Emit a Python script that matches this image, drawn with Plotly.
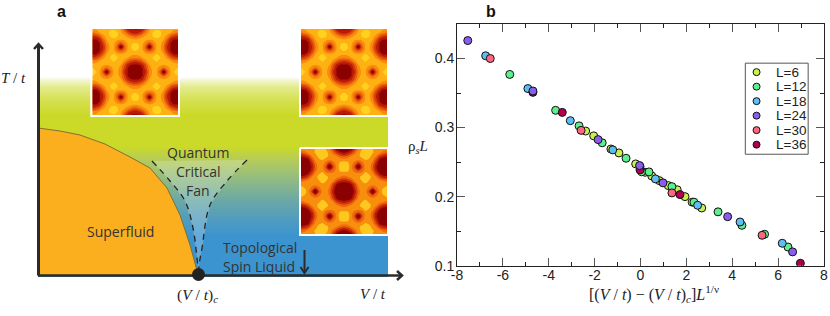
import plotly.graph_objects as go

# ---------- panel b data ----------
L6_x = [-2.39,-2.04,-1.29,-0.94,-0.21,0.20,0.49,0.82,1.21,1.60,1.94,2.25,2.67]
L6_y = [.295,.288,.269,.2633,.2474,.2353,.230,.2232,.216,.210,.200,.192,.1836]
L12_x = [-5.70,-3.70,-2.68,-1.67,-0.63,0.05,0.37,1.37,2.33,3.38,4.42,5.41,6.43]
L12_y = [.377,.325,.3025,.278,.2556,.236,.2358,.2145,.192,.178,.1585,.1455,.127]
L18_x = [-6.75,-4.91,-3.06,-1.21,-0.02,0.65,2.49,4.34,6.18]
L18_y = [.404,.3565,.310,.2677,.2435,.2257,.1875,.1633,.1325]
L24_x = [-7.53,-4.69,-1.85,-0.04,0.98,3.80,6.63]
L24_y = [.426,.353,.2826,.245,.220,.171,.120]
L30_x = [-6.55,-2.59,1.37,5.30]
L30_y = [.400,.296,.2054,.144]
L36_x = [-4.69,-3.41,-0.02,1.72,6.97]
L36_y = [.351,.322,.2387,.203,.1035]
series_names = ["L=6","L=12","L=18","L=24","L=30","L=36"]
series_colors = ["#C8F04E","#5CF08E","#5CBEF5","#8A5CF0","#FF6680","#B0004E"]
xtick_vals = [-8,-6,-4,-2,0,2,4,6,8]
xtick_text = ["-8","-6","-4","-2","0","2","4","6","8"]
ytick_vals = [.1,.2,.3,.4]
ytick_text = ["0.1","0.2","0.3","0.4"]
legend_y = [.3803,.3593,.3383,.3173,.2963,.2753]

# ---------- panel a schematic (page pixels) ----------
grad_y = [76,80,86,100,115,146,160,180,200,220,236,274,276]
grad_c = ["#FFFFFF","#F2F5D0","#E4EC90","#D5E050","#CBD928","#CBD928","#B4CB5A","#8FBA85","#6BA8A6","#4F9CC0","#3B93CF","#3B93CF","#3B93CF"]
grad_col_x = [125.5,300.5]
sf_x = [38,38,60,80,105,130,150,167,180,190,198,198]
sf_y = [275,128,131,135,144,157,168,188,215,245,274,275]
fan_l_x = [152,170,185,193,197,198.5]
fan_l_y = [161,181,201,228,258,272]
fan_r_x = [247,227,210,202,199.5,198.5]
fan_r_y = [160,181,205,248,262,272]
insets = [(92.3,178,29,115),(301,387,29,115),(301,387,149,234)]
# quarter of the density map (low = yellow, high = dark red)
density_quarter = [
 [1.2,1.2,1,.8,.7,.5,.5,.8,1.5,3.3,5.2,5.5,5.5],
 [2.4,2.1,1.4,1,.6,.3,.1,.3,1.2,2.1,3.5,4.5,5],
 [4.4,4,3.2,1.7,1.1,.3,.1,.3,1,1.2,1.7,2.5,2.9],
 [5.5,5.5,5,3,1.4,.9,.6,1.2,1.4,1.2,.9,1,1.2],
 [5.5,5.5,5.5,4,2,1,1.1,2.2,3.3,2.2,1.1,.5,.3],
 [5.5,5.5,5.5,4.6,2.5,1.1,1.2,3,7,3,1.2,.3,.1],
 [5.5,5.5,5.5,4.2,2.2,1,1.1,2.4,3,2.4,1.1,.5,.3],
 [5.5,5.5,4.6,3.1,1.4,.8,.35,1.1,1.3,1.1,.9,1.1,1.2],
 [4.2,3.9,3,1.6,1.1,.3,.1,.3,1,1.1,1.4,1.9,2.1],
 [2,1.8,1.3,1,1,.8,.3,.7,1,1.6,3,3.8,4.2],
 [1,1,.9,1.1,1.3,1.1,.9,1,1.4,3.2,4.8,5.5,5.5],
 [.3,.7,1.1,2,3,2,1.1,1,1.9,3.8,5.5,5.5,5.5],
 [.1,.3,1.2,3,7,3,1.2,1.1,2.1,4.4,5.5,5.5,5.5],
]
levels_warm = [(0,"#FFD21E"),(.5,"#FFB012"),(1.3,"#F98A0E"),(2.3,"#E8620C"),(3.3,"#D83A0A"),(4.3,"#B81A05"),(5.2,"#8B0000"),(6,None)]
levels_hot  = [(0,"#FFC81E"),(1,"#F98E0E"),(2,"#EC6A0C"),(3,"#D83A0A"),(4,"#B81A05"),(5,"#8B0000"),(6,None)]
inset_start = [.4,.4,.7]

def stepped(levels):
    out = []
    for (a,c),(b,_) in zip(levels,levels[1:]):
        out += [[a/6,c],[b/6,c]]
    return out

half = [r + r[-2::-1] for r in density_quarter]
density = half + half[-2::-1]

fig = go.Figure()
PX = dict(xaxis="x", yaxis="y")

# background gradient
span = grad_y[-1]-grad_y[0]
fig.add_trace(go.Heatmap(x=grad_col_x, y=grad_y, z=[[v,v] for v in grad_y], zsmooth="best",
    colorscale=[[(y-grad_y[0])/span,c] for y,c in zip(grad_y,grad_c)], showscale=False,
    zmin=grad_y[0], zmax=grad_y[-1], hoverinfo="skip", **PX))

# insets
for (x0,x1,y0,y1),lv,st in zip(insets,[levels_warm,levels_warm,levels_hot],inset_start):
    n = len(density)
    xs = [x0+(x1-x0)*i/(n-1) for i in range(n)]
    ys = [y0+(y1-y0)*i/(n-1) for i in range(n)]
    fig.add_trace(go.Contour(x=xs,y=ys,z=density,zmin=0,zmax=6,zauto=False,autocontour=False,
        contours=dict(start=st,end=st+5,size=1,coloring="fill",showlines=False),
        line=dict(width=0,smoothing=1.3),
        colorscale=stepped(lv),showscale=False,hoverinfo="skip",**PX))
    fig.add_trace(go.Scatter(x=[x0-1,x1+1,x1+1,x0-1,x0-1],y=[y0-1,y0-1,y1+1,y1+1,y0-1],mode="lines",
        line=dict(color="white",width=2),showlegend=False,hoverinfo="skip",**PX))

# lighter fan
fig.add_trace(go.Scatter(x=fan_l_x+fan_r_x[::-1],y=fan_l_y+fan_r_y[::-1],mode="lines",fill="toself",
    fillcolor="rgba(255,255,255,0.22)",line=dict(width=0),showlegend=False,hoverinfo="skip",**PX))
# superfluid
fig.add_trace(go.Scatter(x=sf_x,y=sf_y,mode="lines",fill="toself",fillcolor="#FCAF1E",
    line=dict(width=0),showlegend=False,hoverinfo="skip",**PX))
fig.add_trace(go.Scatter(x=sf_x[1:-1],y=sf_y[1:-1],mode="lines",
    line=dict(color="#7F7230",width=1),showlegend=False,hoverinfo="skip",**PX))
# dashed crossovers
for xs,ys in [(fan_l_x,fan_l_y),(fan_r_x,fan_r_y)]:
    fig.add_trace(go.Scatter(x=xs,y=ys,mode="lines",line=dict(color="#222",width=1.3,dash="6px,5px",shape="spline"),
        showlegend=False,hoverinfo="skip",**PX))
# axes with arrows
AX = "#2B2B2B"
for xs,ys,w in [([38.5,38.5],[275.5,45],3),([38,401],[275.5,275.5],2.5),
              ([34,38.5,43],[49,44,49],2.5),([397,402,397],[271,275.5,280],2.5),
              ([304.5,304.5],[250,273],2),([300.5,304.5,308.5],[267,273,267],2)]:
    fig.add_trace(go.Scatter(x=xs,y=ys,mode="lines",line=dict(color=AX,width=w),showlegend=False,hoverinfo="skip",**PX))
fig.add_trace(go.Scatter(x=[198.5],y=[274.5],mode="markers",marker=dict(color="#222",size=13),showlegend=False,hoverinfo="skip",**PX))

# panel b
series = [(L6_x,L6_y),(L12_x,L12_y),(L18_x,L18_y),(L36_x,L36_y),(L24_x,L24_y),(L30_x,L30_y)]
idx = [0,1,2,5,3,4]
for (xs,ys),i in zip(series,idx):
    fig.add_trace(go.Scatter(x=xs,y=ys,mode="markers",name=series_names[i],showlegend=False,
        marker=dict(color=series_colors[i],size=8,line=dict(color="#111",width=1)),xaxis="x2",yaxis="y2"))
# hand-placed legend box inside the axes
fig.add_trace(go.Scatter(x=[4.57,7.31,7.31,4.57,4.57],y=[.3933,.3933,.2614,.2614,.3933],mode="lines",
    line=dict(color="#555",width=1),showlegend=False,hoverinfo="skip",xaxis="x2",yaxis="y2"))
for name,col,y in zip(series_names,series_colors,legend_y):
    fig.add_trace(go.Scatter(x=[5.06],y=[y],mode="markers",marker=dict(color=col,size=7,line=dict(color="#111",width=1)),
        showlegend=False,hoverinfo="skip",xaxis="x2",yaxis="y2"))

SANS="Liberation Sans"; SERIF="Liberation Serif"; HUM="Open Sans"
ann=[]
def T(x,y,text,font,size,color="#222",anchor="center"):
    ann.append(dict(x=x,y=y,xref="x",yref="y",text=text,showarrow=False,xanchor=anchor,yanchor="middle",
        font=dict(family=font,size=size,color=color)))
T(61,11,"<b>a</b>",SANS,16,"#111")
T(491,11,"<b>b</b>",SANS,16,"#111")
T(13,78,"<i>T</i> / <i>t</i>",SERIF,15)
T(197,295,"(<i>V</i> / <i>t</i>)<sub><i>c</i></sub>",SERIF,15.5)
T(373,294,"<i>V</i> / <i>t</i>",SERIF,15)
T(198,152,"Quantum",HUM,14,"#333")
T(198,171,"Critical",HUM,14,"#333")
T(198,190,"Fan",HUM,14,"#333")
T(120,231,"Superfluid",HUM,14,"#333")
T(221,247,"Topological",HUM,14,"#333","left")
T(221,266,"Spin Liquid",HUM,14,"#333","left")
T(418,147,"ρ<sub><i>s</i></sub><i>L</i>",SERIF,15)
T(654,294,"[(<i>V</i> / <i>t</i>) − (<i>V</i> / <i>t</i>)<sub><i>c</i></sub>]<i>L</i><sup>1/ν</sup>",SERIF,16)
for name,y in zip(series_names,legend_y):
    ann.append(dict(x=5.82,y=y,xref="x2",yref="y2",text=name,showarrow=False,xanchor="left",yanchor="middle",
        font=dict(family=SANS,size=13.5,color="#222")))

fig.update_layout(template="none",width=830,height=316,margin=dict(l=0,r=0,t=0,b=0),paper_bgcolor="white",plot_bgcolor="rgba(0,0,0,0)",
    showlegend=False,annotations=ann,
    xaxis=dict(domain=[0,1],range=[0,830],visible=False,fixedrange=True,automargin=False),
    yaxis=dict(domain=[0,1],range=[316,0],visible=False,fixedrange=True,automargin=False),
    xaxis2=dict(domain=[457/830,824/830],range=[-8,8],anchor="y2",tickmode="array",tickvals=xtick_vals,ticktext=xtick_text,automargin=False,
        ticks="inside",ticklen=8,tickcolor="#555",tickwidth=1,showgrid=False,zeroline=False,showline=True,linecolor="#222",linewidth=1,mirror="ticks",ticklabelstandoff=-4,
        tickfont=dict(family=SANS,size=14,color="#222"),minor=dict(tick0=-8,dtick=1,ticks="inside",ticklen=4,tickcolor="#222",tickwidth=1,showgrid=False)),
    yaxis2=dict(domain=[1-265.7/316,1-24/316],range=[.1,.45],anchor="x2",tickmode="array",tickvals=ytick_vals,ticktext=ytick_text,automargin=False,
        ticks="inside",ticklen=8,tickcolor="#555",tickwidth=1,showgrid=False,zeroline=False,showline=True,linecolor="#222",linewidth=1,mirror="ticks",ticklabelstandoff=-1,
        tickfont=dict(family=SANS,size=14,color="#222"),minor=dict(tick0=.1,dtick=.05,ticks="inside",ticklen=4,tickcolor="#222",tickwidth=1,showgrid=False)),
)
fig.write_html("out.html",config=dict(displayModeBar=False),post_script="document.body.style.margin='0';document.body.style.overflow='hidden';")
